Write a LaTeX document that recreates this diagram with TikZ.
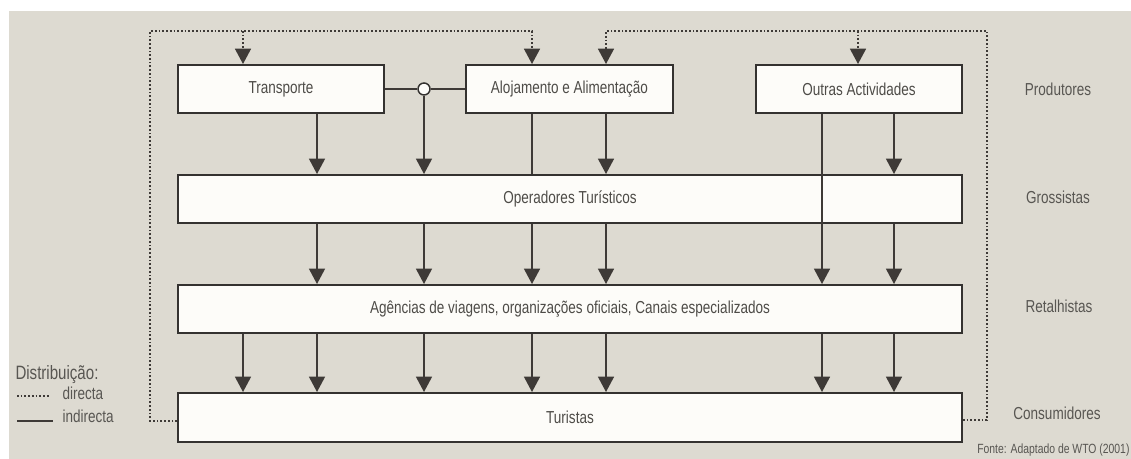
\documentclass[tikz,border=0pt]{standalone}
\usepackage{fontspec}
\setmainfont{Liberation Sans}[FakeStretch=0.78]
\usetikzlibrary{arrows.meta}

\tikzset{every picture/.style={line width=0.75pt}}
\tikzset{
	box/.style={draw={rgb, 255:red, 52; green, 50; blue, 48 }, line width=1.5pt, fill={rgb, 255:red, 253; green, 252; blue, 249 }, inner sep=0pt, text={rgb, 255:red, 78; green, 76; blue, 72 }, font=\fontsize{13}{15}\selectfont},
	txt/.style={inner sep=0pt, text={rgb, 255:red, 88; green, 86; blue, 82 }, font=\fontsize{13}{15}\selectfont},
	link/.style={draw={rgb, 255:red, 62; green, 58; blue, 55 }, line width=1.1pt},
	flow/.style={link, -{Triangle[width=12pt,length=11.5pt]}},
	direct/.style={draw={rgb, 255:red, 62; green, 58; blue, 55 }, line width=1.2pt, dash pattern=on 1.3pt off 1.5pt},
	directflow/.style={direct, -{Triangle[width=12pt,length=11.5pt]}}
}

\begin{document}
\begin{tikzpicture}[x=0.75pt,y=0.75pt,yscale=-1,xscale=1]
	\useasboundingbox (0,0) rectangle (1131,459);
	%Shape: Rectangle [background]
	\fill [fill={rgb, 255:red, 221; green, 218; blue, 209 }] (9,11) rectangle (1131,459);

	%Shape: Rectangle [produtores]
	\node [box, minimum width=154.5pt, minimum height=36pt] (transp) at (281,89) {Transporte};
	\node [box, minimum width=155.25pt, minimum height=36pt] (aloj) at (569.5,89) {Alojamento e Alimentação};
	\node [box, minimum width=154.5pt, minimum height=36pt] (outras) at (859,89) {Outras Actividades};
	%Shape: Rectangle [grossistas, retalhistas, consumidores]
	\node [box, minimum width=588pt, minimum height=36pt] (oper) at (570,199) {Operadores Turísticos};
	\node [box, minimum width=588pt, minimum height=36pt] (agen) at (570,309) {Agências de viagens, organizações oficiais, Canais especializados};
	\node [box, minimum width=588pt, minimum height=36.75pt] (tur) at (570,417.5) {Turistas};
	%Shape: Circle
	\node [circle, draw={rgb, 255:red, 52; green, 50; blue, 48 }, fill={rgb, 255:red, 253; green, 252; blue, 249 }, line width=1.1pt, minimum size=9pt, inner sep=0pt] (junc) at (424,89) {};

	% columns of the arrows
	\coordinate (c1) at (243,0);
	\coordinate (c2) at (317,0);
	\coordinate (c3) at (424,0);
	\coordinate (c4) at (532,0);
	\coordinate (c5) at (606,0);
	\coordinate (c6) at (822,0);
	\coordinate (c7) at (858,0);
	\coordinate (c8) at (894,0);
	% corners of the direct channel
	\coordinate (tl) at (150,31);
	\coordinate (bl) at (150,421);
	\coordinate (tr) at (987,31);
	\coordinate (br) at (987,420);

	% Direct distribution
	\draw [directflow] (tur.west |- bl) -- (bl) -- (tl) -- (c4 |- tl) -- (c4 |- aloj.north);
	\draw [directflow] (c1 |- tl) -- (c1 |- transp.north);
	\draw [directflow] (tur.east |- br) -- (br) -- (tr) -- (c5 |- tr) -- (c5 |- aloj.north);
	\draw [directflow] (c7 |- tr) -- (c7 |- outras.north);

	% Produtores - Grossistas
	\draw [link] (transp) -- (junc);
	\draw [link] (junc) -- (aloj);
	\draw [flow] (c2 |- transp.south) -- (c2 |- oper.north);
	\draw [flow] (junc) -- (junc |- oper.north);
	\draw [link] (c4 |- aloj.south) -- (c4 |- oper.north);
	\draw [flow] (c5 |- aloj.south) -- (c5 |- oper.north);
	\draw [flow] (c6 |- outras.south) -- (c6 |- agen.north);
	\draw [flow] (c8 |- outras.south) -- (c8 |- oper.north);

	% Grossistas - Retalhistas
	\draw [flow] (c2 |- oper.south) -- (c2 |- agen.north);
	\draw [flow] (c3 |- oper.south) -- (c3 |- agen.north);
	\draw [flow] (c4 |- oper.south) -- (c4 |- agen.north);
	\draw [flow] (c5 |- oper.south) -- (c5 |- agen.north);
	\draw [flow] (c8 |- oper.south) -- (c8 |- agen.north);

	% Retalhistas - Consumidores
	\draw [flow] (c1 |- agen.south) -- (c1 |- tur.north);
	\draw [flow] (c2 |- agen.south) -- (c2 |- tur.north);
	\draw [flow] (c3 |- agen.south) -- (c3 |- tur.north);
	\draw [flow] (c4 |- agen.south) -- (c4 |- tur.north);
	\draw [flow] (c5 |- agen.south) -- (c5 |- tur.north);
	\draw [flow] (c6 |- agen.south) -- (c6 |- tur.north);
	\draw [flow] (c8 |- agen.south) -- (c8 |- tur.north);

	% Text Node
	\node [txt] (prod) at (1058,89) {Produtores};
	% Text Node
	\node [txt] (gros) at (1058,197) {Grossistas};
	% Text Node
	\node [txt] (retal) at (1059,306) {Retalhistas};
	% Text Node
	\node [txt] (cons) at (1057,413) {Consumidores};
	% Text Node
	\node [txt, anchor=east, font=\fontsize{10}{12}\selectfont] (fonte) at (1130,450) {Fonte: Adaptado de WTO (2001)};

	% Legend
	\node [txt, anchor=west, font=\fontsize{14.5}{16}\selectfont] (distr) at (15,375) {Distribuição:};
	\coordinate (ld1) at (17,396);
	\coordinate (ld2) at (49,396);
	\draw [direct] (ld1) -- (ld2);
	\node [txt, anchor=west] (ldir) at (62,393) {directa};
	\coordinate (li1) at (17,421);
	\coordinate (li2) at (53,421);
	\draw [link] (li1) -- (li2);
	\node [txt, anchor=west] (lind) at (62,416) {indirecta};
\end{tikzpicture}
\end{document}
